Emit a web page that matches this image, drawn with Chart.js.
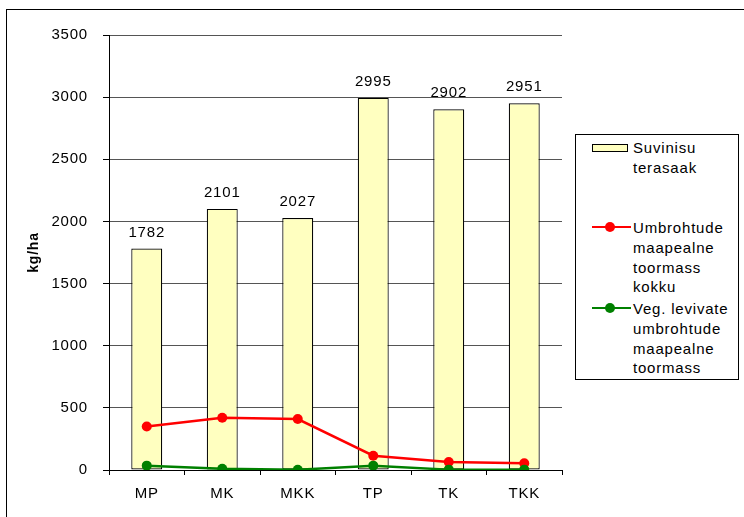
<!DOCTYPE html>
<html>
<head>
<meta charset="utf-8">
<script src="https://cdn.jsdelivr.net/npm/chart.js@4.4.1/dist/chart.umd.min.js"></script>
<style>
    html, body { margin: 0; padding: 0; background: #fff; overflow: hidden; }
    #wrap { position: relative; width: 744px; height: 517px; overflow: hidden; }
    #frame { position: absolute; left: 6px; top: 9px; width: 800px; height: 600px; border: 1px solid #000; }
    #chart { position: absolute; left: 0; top: 0; }
    #legend {
        position: absolute; left: 575px; top: 134px; width: 162px; height: 244px;
        border: 1px solid #000; background: #fff;
        font-family: Arial, "Liberation Sans", sans-serif; font-size: 15px; letter-spacing: 0.8px; color: #000;
    }
    .item { position: absolute; left: 0; width: 162px; }
    .txt { position: absolute; left: 57px; top: 0; line-height: 19.8px; white-space: nowrap; }
    .swatch { position: absolute; left: 16px; width: 34px; height: 6px; border: 1px solid #000; background: #ffffc0; }
    .ln { position: absolute; left: 16px; width: 39px; height: 2px; }
    .dot { position: absolute; left: 29px; width: 10px; height: 10px; border-radius: 50%; }
</style>
</head>
<body>
<div id="wrap">
    <div id="frame"></div>
    <canvas id="chart" width="744" height="517"></canvas>
    <div id="legend"></div>
</div>
<script>
const categories = ['MP', 'MK', 'MKK', 'TP', 'TK', 'TKK'];
const grainYield = [1782, 2101, 2027, 2995, 2902, 2951];      // Suvinisu terasaak
const weedsTotal = [350, 420, 410, 115, 64, 54];               // umbrohtude toormass kokku
const vegWeeds = [35, 10, 2, 35, 3, 3];                        // veg. levivate umbrohtude toormass
const seriesNames = [
    ['Suvinisu', 'terasaak'],
    ['Umbrohtude', 'maapealne', 'toormass', 'kokku'],
    ['Veg. levivate', 'umbrohtude', 'maapealne', 'toormass']
];

const barFill = '#ffffc0';
const redLine = '#ff0000';
const greenLine = '#008000';
const textSpacing = '0.8px';

Chart.defaults.font.family = 'Arial, "Liberation Sans", sans-serif';
Chart.defaults.font.size = 15;
Chart.defaults.color = '#000';

// wider letter spacing for all canvas text
const spacing = {
    id: 'spacing',
    beforeUpdate(chart) { chart.ctx.letterSpacing = textSpacing; },
    beforeDraw(chart) { chart.ctx.letterSpacing = textSpacing; }
};

// value labels above the bars
const barLabels = {
    id: 'barLabels',
    afterDatasetsDraw(chart) {
        const ctx = chart.ctx;
        const meta = chart.getDatasetMeta(0);
        ctx.save();
        ctx.letterSpacing = textSpacing;
        ctx.font = '15px Arial, "Liberation Sans", sans-serif';
        ctx.fillStyle = '#000';
        ctx.textAlign = 'center';
        ctx.textBaseline = 'alphabetic';
        meta.data.forEach((bar, i) => {
            ctx.fillText(String(grainYield[i]), bar.x, bar.y - 12);
        });
        ctx.restore();
    }
};

new Chart(document.getElementById('chart'), {
    type: 'bar',
    data: {
        labels: categories,
        datasets: [
            {
                type: 'bar',
                label: seriesNames[0].join(' '),
                data: grainYield,
                backgroundColor: barFill,
                borderColor: '#000',
                borderWidth: 1.2,
                borderSkipped: false,
                barPercentage: 0.41,
                categoryPercentage: 1,
                order: 2
            },
            {
                type: 'line',
                label: seriesNames[1].join(' '),
                data: weedsTotal,
                borderColor: redLine,
                backgroundColor: redLine,
                borderWidth: 2.5,
                pointRadius: 5,
                pointBorderWidth: 0,
                tension: 0,
                order: 1
            },
            {
                type: 'line',
                label: seriesNames[2].join(' '),
                data: vegWeeds,
                borderColor: greenLine,
                backgroundColor: greenLine,
                borderWidth: 2.5,
                pointRadius: 5,
                pointBorderWidth: 0,
                tension: 0,
                order: 0
            }
        ]
    },
    options: {
        responsive: false,
        devicePixelRatio: 1,
        animation: false,
        layout: { padding: { left: 0, top: 35, right: 182, bottom: 0 } },
        plugins: {
            legend: { display: false },
            tooltip: { enabled: false }
        },
        scales: {
            x: {
                grid: {
                    offset: true,
                    drawOnChartArea: false,
                    drawTicks: true,
                    tickLength: 5,
                    tickColor: '#000'
                },
                border: { color: '#000', width: 1 },
                ticks: { padding: 10, color: '#000', maxRotation: 0 },
                afterFit(scale) { scale.height = 47; }
            },
            y: {
                min: 0,
                max: 3500,
                ticks: {
                    stepSize: 500,
                    padding: 15,
                    color: '#000',
                    callback: (v) => String(v)
                },
                grid: { color: '#555', lineWidth: 1, tickLength: 6, tickColor: '#000' },
                border: { color: '#000', width: 1 },
                title: {
                    display: true,
                    text: 'kg/ha',
                    color: '#000',
                    font: { size: 14, weight: 'bold' },
                    padding: { top: 26, bottom: 0 }
                },
                afterFit(scale) { scale.width = 109; }
            }
        }
    },
    plugins: [spacing, barLabels]
});

// legend box on the right
const legend = document.getElementById('legend');
const itemTops = [3, 83, 164];
const markerTops = [9, 92, 173];
seriesNames.forEach((lines, i) => {
    const item = document.createElement('div');
    item.className = 'item';
    item.style.top = itemTops[i] + 'px';
    if (i === 0) {
        const sw = document.createElement('div');
        sw.className = 'swatch';
        sw.style.top = (markerTops[i] - itemTops[i]) + 'px';
        item.appendChild(sw);
    } else {
        const color = i === 1 ? redLine : greenLine;
        const ln = document.createElement('div');
        ln.className = 'ln';
        ln.style.background = color;
        ln.style.top = (markerTops[i] - itemTops[i] - 1) + 'px';
        const dot = document.createElement('div');
        dot.className = 'dot';
        dot.style.background = color;
        dot.style.top = (markerTops[i] - itemTops[i] - 5) + 'px';
        item.appendChild(ln);
        item.appendChild(dot);
    }
    const txt = document.createElement('div');
    txt.className = 'txt';
    txt.innerHTML = lines.join('<br>');
    item.appendChild(txt);
    legend.appendChild(item);
});
</script>
</body>
</html>
